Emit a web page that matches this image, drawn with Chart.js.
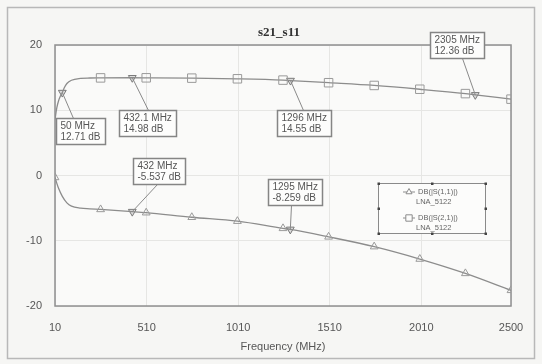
<!DOCTYPE html>
<html>
<head>
<meta charset="utf-8">
<script src="https://cdn.jsdelivr.net/npm/chart.js@4.4.1/dist/chart.umd.min.js"></script>
<style>
  html, body { margin: 0; padding: 0; background: #f6f6f4; }
  #wrap { width: 542px; height: 364px; position: relative; }
</style>
</head>
<body>
<div id="wrap"><canvas id="c" width="542" height="364"></canvas></div>
<script>
// ---- chart text ----
const chartTitle = 's21_s11';
const xAxisTitle = 'Frequency (MHz)';
const xTickValues = [10, 510, 1010, 1510, 2010, 2500];
const yTickValues = [-20, -10, 0, 10, 20];

// ---- DB(|S(2,1)|) of LNA_5122 ----
const s21Freq = [10, 20, 30, 40, 50, 60, 75, 100, 150, 200, 259, 432.1, 508, 757, 1006, 1255, 1296, 1504, 1753, 2002, 2251, 2305, 2500];
const s21Db   = [8.6, 10.4, 11.5, 12.2, 12.71, 13.4, 14.1, 14.6, 14.88, 14.94, 14.96, 14.98, 14.97, 14.92, 14.82, 14.62, 14.55, 14.22, 13.8, 13.22, 12.55, 12.36, 11.7];
const s21SymbolFreq = [259, 508, 757, 1006, 1255, 1504, 1753, 2002, 2251, 2500];

// ---- DB(|S(1,1)|) of LNA_5122 ----
const s11Freq = [10, 20, 30, 50, 75, 100, 150, 200, 259, 432, 508, 757, 1006, 1255, 1295, 1504, 1753, 2002, 2251, 2500];
const s11Db   = [-0.3, -1.2, -2.0, -3.2, -4.2, -4.7, -5.0, -5.1, -5.2, -5.537, -5.7, -6.4, -7.0, -8.1, -8.259, -9.4, -10.9, -12.8, -15.0, -17.6];
const s11SymbolFreq = [10, 259, 508, 757, 1006, 1255, 1504, 1753, 2002, 2251, 2500];

// ---- markers ----
const s21MarkerFreq = [50, 432.1, 1296, 2305];
const s21MarkerDb   = [12.71, 14.98, 14.55, 12.36];
const s11MarkerFreq = [432, 1295];
const s11MarkerDb   = [-5.537, -8.259];

// ---- legend ----
const legendNames = ['DB(|S(1,1)|)', 'DB(|S(2,1)|)'];
const legendSource = 'LNA_5122';

const lineGray = '#8c8c8c';
const textGray = '#565656';

const toPoints = (fs, vs) => fs.map((f, i) => ({ x: f, y: vs[i] }));

// callout box placement relative to each marker (same order as markers)
const calloutPlacement = [
  { dx: -6,  dy: 25,  lead: 17, side: 'top' },
  { dx: -13, dy: 32,  lead: 29, side: 'top' },
  { dx: -14, dy: 29,  lead: 26, side: 'top' },
  { dx: -45, dy: -63, lead: 32, side: 'bottom' },
  { dx: 1,   dy: -54, lead: 24, side: 'bottom' },
  { dx: -22, dy: -50, lead: 23, side: 'bottom' }
];

const plotDecor = {
  id: 'plotDecor',
  beforeDraw(chart) {
    const { ctx, chartArea: a } = chart;
    ctx.save();
    ctx.fillStyle = '#f6f6f4';
    ctx.fillRect(0, 0, chart.width, chart.height);
    ctx.strokeStyle = '#b8b8b8';
    ctx.lineWidth = 1.5;
    ctx.strokeRect(7.5, 7.5, 527, 351);
    ctx.fillStyle = '#fafaf9';
    ctx.fillRect(a.left, a.top, a.right - a.left, a.bottom - a.top);
    ctx.restore();
  },
  beforeDatasetsDraw(chart) {
    const { ctx, chartArea: a } = chart;
    ctx.save();
    ctx.strokeStyle = '#8f8f8f';
    ctx.lineWidth = 1.5;
    ctx.strokeRect(a.left, a.top, a.right - a.left, a.bottom - a.top);
    ctx.restore();
  },
  afterDraw(chart) {
    const { ctx, chartArea: a } = chart;
    const xs = chart.scales.x, ys = chart.scales.y;
    ctx.save();

    // title
    ctx.fillStyle = '#333';
    ctx.font = 'bold 13px "Liberation Serif"';
    ctx.textAlign = 'center';
    ctx.textBaseline = 'middle';
    ctx.fillText(chartTitle, (a.left + a.right) / 2 - 4, 33);

    // marker callouts
    const markers = [
      ...s21MarkerFreq.map((f, i) => ({ f, v: s21MarkerDb[i] })),
      ...s11MarkerFreq.map((f, i) => ({ f, v: s11MarkerDb[i] }))
    ];
    ctx.font = '10px "Liberation Sans"';
    ctx.textAlign = 'left';
    markers.forEach((m, i) => {
      const p = calloutPlacement[i];
      const px = xs.getPixelForValue(m.f), py = ys.getPixelForValue(m.v);
      const l1 = m.f + ' MHz', l2 = m.v + ' dB';
      const w = Math.ceil(Math.max(ctx.measureText(l1).width, ctx.measureText(l2).width)) + 8;
      const h = 26;
      const bx = Math.round(px + p.dx) + 0.5, by = Math.round(py + p.dy) + 0.5;
      const ax = bx + p.lead, ay = p.side === 'top' ? by : by + h;
      ctx.strokeStyle = '#8a8a8a';
      ctx.lineWidth = 1;
      ctx.beginPath();
      ctx.moveTo(px, py);
      ctx.lineTo(ax, ay);
      ctx.stroke();
      ctx.fillStyle = '#fdfdfc';
      ctx.fillRect(bx, by, w, h);
      ctx.lineWidth = 1.5;
      ctx.strokeStyle = '#858585';
      ctx.strokeRect(bx, by, w, h);
      ctx.fillStyle = textGray;
      ctx.fillText(l1, bx + 4, by + 8);
      ctx.fillText(l2, bx + 4, by + 19);
    });

    // legend box
    const lx = 378.5, ly = 183.5, lw = 107, lh = 50;
    ctx.fillStyle = '#fcfcfb';
    ctx.fillRect(lx, ly, lw, lh);
    ctx.strokeStyle = '#8a8a8a';
    ctx.lineWidth = 1;
    ctx.strokeRect(lx, ly, lw, lh);
    ctx.fillStyle = '#444';
    [[0, 0], [lw / 2, 0], [lw, 0], [0, lh / 2], [lw, lh / 2], [0, lh], [lw / 2, lh], [lw, lh]].forEach(([dx, dy]) => {
      ctx.fillRect(lx + dx - 1, ly + dy - 1, 2.5, 2.5);
    });
    ctx.font = '7.5px "Liberation Sans"';
    const rows = [
      { y: 192, style: 'triangle' },
      { y: 218, style: 'rect' }
    ];
    rows.forEach((r, i) => {
      ctx.strokeStyle = '#8c8c8c';
      ctx.lineWidth = 1;
      ctx.beginPath();
      ctx.moveTo(403, r.y);
      ctx.lineTo(415, r.y);
      ctx.stroke();
      ctx.fillStyle = '#fcfcfb';
      Chart.helpers.drawPoint(ctx, { pointStyle: r.style, radius: r.style === 'rect' ? 4.5 : 3.5, borderWidth: 1, rotation: 0 }, 409, r.y);
      ctx.fillStyle = '#666';
      ctx.fillText(legendNames[i], 418, r.y);
      ctx.fillText(legendSource, 416, r.y + 10);
    });
    ctx.restore();
  }
};

const pointRadiusFor = (list, r) => (c) => (c.raw && list.includes(c.raw.x)) ? r : 0;

new Chart(document.getElementById('c'), {
  type: 'line',
  data: {
    datasets: [
      {
        label: legendNames[1],
        data: toPoints(s21Freq, s21Db),
        borderColor: lineGray,
        borderWidth: 1.3,
        cubicInterpolationMode: 'monotone',
        pointStyle: 'rect',
        pointRadius: pointRadiusFor(s21SymbolFreq, 6),
        pointBorderColor: '#9a9a9a',
        pointBackgroundColor: 'rgba(255,255,255,0)',
        pointBorderWidth: 1
      },
      {
        label: legendNames[0],
        data: toPoints(s11Freq, s11Db),
        borderColor: lineGray,
        borderWidth: 1.3,
        cubicInterpolationMode: 'monotone',
        pointStyle: 'triangle',
        pointRadius: pointRadiusFor(s11SymbolFreq, 4.5),
        pointBorderColor: '#9a9a9a',
        pointBackgroundColor: 'rgba(255,255,255,0)',
        pointBorderWidth: 1
      },
      {
        label: 'markers',
        data: [...toPoints(s21MarkerFreq, s21MarkerDb), ...toPoints(s11MarkerFreq, s11MarkerDb)],
        showLine: false,
        pointStyle: 'triangle',
        rotation: 180,
        pointRadius: 4.5,
        pointBorderColor: '#7a7a7a',
        pointBackgroundColor: 'rgba(200,200,200,0.6)',
        pointBorderWidth: 1
      }
    ]
  },
  options: {
    responsive: false,
    animation: false,
    events: [],
    layout: { padding: { top: 45, right: 31, bottom: 8, left: 0 } },
    plugins: {
      legend: { display: false },
      tooltip: { enabled: false },
      title: { display: false }
    },
    scales: {
      x: {
        type: 'linear',
        min: 10,
        max: 2500,
        afterBuildTicks: (s) => { s.ticks = xTickValues.map(v => ({ value: v })); },
        afterFit: (s) => { s.height = 50; },
        grid: { color: '#e6e6e4', drawTicks: false, lineWidth: 1 },
        border: { display: false },
        ticks: {
          padding: 15, color: textGray, font: { family: 'Liberation Sans', size: 11 },
          maxRotation: 0, autoSkip: false,
          callback: (v) => String(v)
        },
        title: { display: true, text: xAxisTitle, color: textGray, font: { family: 'Liberation Sans', size: 11 }, padding: { top: 0, bottom: 2 } }
      },
      y: {
        min: -20,
        max: 20,
        afterBuildTicks: (s) => { s.ticks = yTickValues.map(v => ({ value: v })); },
        afterFit: (s) => { s.width = 55; },
        grid: { color: '#e6e6e4', drawTicks: false, lineWidth: 1 },
        border: { display: false },
        ticks: { padding: 13, color: textGray, font: { family: 'Liberation Sans', size: 11 }, callback: (v) => String(v) }
      }
    }
  },
  plugins: [plotDecor]
});
</script>
</body>
</html>
